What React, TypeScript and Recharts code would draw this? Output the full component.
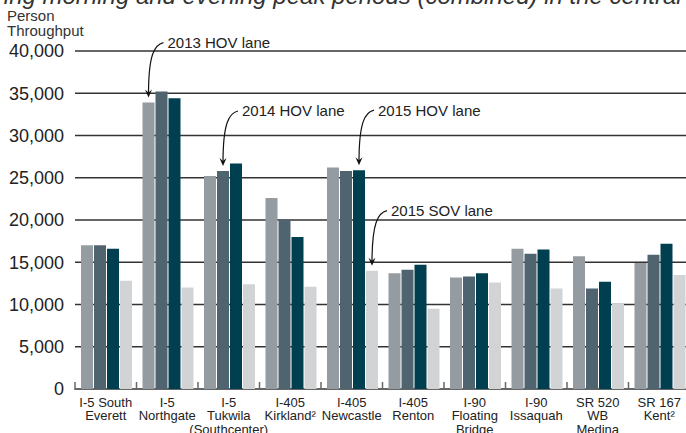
import React from 'react';
import { BarChart, Bar, XAxis, YAxis, CartesianGrid, LabelList } from 'recharts';

// corridor labels, one entry per line
const corridors: string[][] = [
  ['I-5 South', 'Everett'],
  ['I-5', 'Northgate'],
  ['I-5', 'Tukwila', '(Southcenter)'],
  ['I-405', 'Kirkland²'],
  ['I-405', 'Newcastle'],
  ['I-405', 'Renton'],
  ['I-90', 'Floating', 'Bridge'],
  ['I-90', 'Issaquah'],
  ['SR 520', 'WB', 'Medina'],
  ['SR 167', 'Kent²'],
];

const hov2013 = [17000, 33900, 25200, 22600, 26200, 13700, 13200, 16600, 15700, 14900];
const hov2014 = [17000, 35200, 25800, 20100, 25800, 14100, 13300, 16000, 11900, 15900];
const hov2015 = [16600, 34400, 26700, 18000, 25900, 14700, 13700, 16500, 12700, 17200];
const sov2015 = [12800, 12000, 12400, 12100, 14000, 9500, 12600, 11900, 10100, 13500];

const yTicks = [0, 5000, 10000, 15000, 20000, 25000, 30000, 35000, 40000];

// which bar gets a callout: [series, category index, text]
const callouts: [string, number, string][] = [
  ['hov2013', 1, '2013 HOV lane'],
  ['hov2014', 2, '2014 HOV lane'],
  ['hov2015', 4, '2015 HOV lane'],
  ['sov2015', 4, '2015 SOV lane'],
];

const FONT = '"Liberation Sans", Arial, Helvetica, sans-serif';
const CHART_W = 700;
const Y_W = 75;
const RIGHT = 10;
const BAND = (CHART_W - Y_W - RIGHT) / corridors.length;

const data = corridors.map((c, i) => ({
  name: c.join(' '),
  hov2013: hov2013[i],
  hov2014: hov2014[i],
  hov2015: hov2015[i],
  sov2015: sov2015[i],
}));

const CorridorTick = (props: any) => {
  const { x, y, payload } = props;
  const lines = corridors[payload.index] ?? [payload.value];
  const left = x - BAND / 2;
  return (
    <g>
      <line x1={left} x2={left} y1={y + 1} y2={y - 7} stroke="#666" strokeWidth={1.5} />
      <text x={x} y={y + 17.5} textAnchor="middle" fontSize={13} fill="#222" fontFamily={FONT}>
        {lines.map((l: string, i: number) => (
          <tspan key={i} x={x} dy={i === 0 ? 0 : 13.5}>
            {l}
          </tspan>
        ))}
      </text>
    </g>
  );
};

const ValueTick = (props: any) => {
  const { x, y, payload } = props;
  return (
    <text x={x} y={y} dy="0.35em" textAnchor="end" fontSize={18} fill="#222" fontFamily={FONT}>
      {payload.value.toLocaleString('en-US')}
    </text>
  );
};

const makeCallout = (series: string) => (props: any) => {
  const hit = callouts.find((c) => c[0] === series && c[1] === props.index);
  if (!hit) return null;
  const vb = props.viewBox ?? props;
  const cx = vb.x + vb.width / 2;
  const top = vb.y;
  const tipY = top - 5;
  const sx = cx + 15;
  const sy = top - 60;
  return (
    <g>
      <path
        d={`M${sx},${sy} C${sx - 9},${sy + 2} ${cx},${sy + 12} ${cx},${tipY - 3}`}
        fill="none"
        stroke="#111"
        strokeWidth={1.2}
      />
      <path d={`M${cx - 3.5},${tipY - 8} L${cx},${tipY} L${cx + 3.5},${tipY - 8} L${cx},${tipY - 5} Z`} fill="#111" />
      <text x={sx + 4} y={sy + 5.5} fontSize={15} fill="#222" fontFamily={FONT}>
        {hit[2]}
      </text>
    </g>
  );
};

export default function App() {
  return (
    <div style={{ position: 'relative', width: 686, height: 433, overflow: 'hidden', background: '#fff', fontFamily: FONT }}>
      <style>{'body{margin:0}'}</style>
      <BarChart
        width={CHART_W}
        height={433}
        data={data}
        margin={{ top: 51, right: RIGHT, left: 0, bottom: 0 }}
        barGap={1}
        barCategoryGap={6}
      >
        <CartesianGrid vertical={false} stroke="#333" strokeWidth={1.3} />
        <XAxis
          dataKey="name"
          interval={0}
          height={44}
          axisLine={false}
          tickLine={false}
          tickSize={0}
          tickMargin={0}
          tick={<CorridorTick />}
        />
        <YAxis
          width={Y_W}
          domain={[0, 40000]}
          ticks={yTicks}
          axisLine={false}
          tickLine={false}
          tickSize={0}
          tickMargin={11}
          tick={<ValueTick />}
        />
        <Bar dataKey="hov2013" fill="#949ca2" isAnimationActive={false}>
          <LabelList dataKey="hov2013" content={makeCallout('hov2013')} />
        </Bar>
        <Bar dataKey="hov2014" fill="#506470" isAnimationActive={false}>
          <LabelList dataKey="hov2014" content={makeCallout('hov2014')} />
        </Bar>
        <Bar dataKey="hov2015" fill="#003f50" isAnimationActive={false}>
          <LabelList dataKey="hov2015" content={makeCallout('hov2015')} />
        </Bar>
        <Bar dataKey="sov2015" fill="#d1d3d4" isAnimationActive={false}>
          <LabelList dataKey="sov2015" content={makeCallout('sov2015')} />
        </Bar>
      </BarChart>
      <svg width={686} height={40} style={{ position: 'absolute', left: 0, top: 0, pointerEvents: 'none' }}>
        <text x={-235} y={4} fontSize={24} fontStyle="italic" fill="#333" fontFamily={FONT}>
          Person throughput during morning and evening peak periods (combined) in the central Puget Sound, people
        </text>
        <text x={7} y={21} fontSize={15} fill="#333" fontFamily={FONT}>
          Person
        </text>
        <text x={7} y={36} fontSize={15} fill="#333" fontFamily={FONT}>
          Throughput
        </text>
      </svg>
    </div>
  );
}
